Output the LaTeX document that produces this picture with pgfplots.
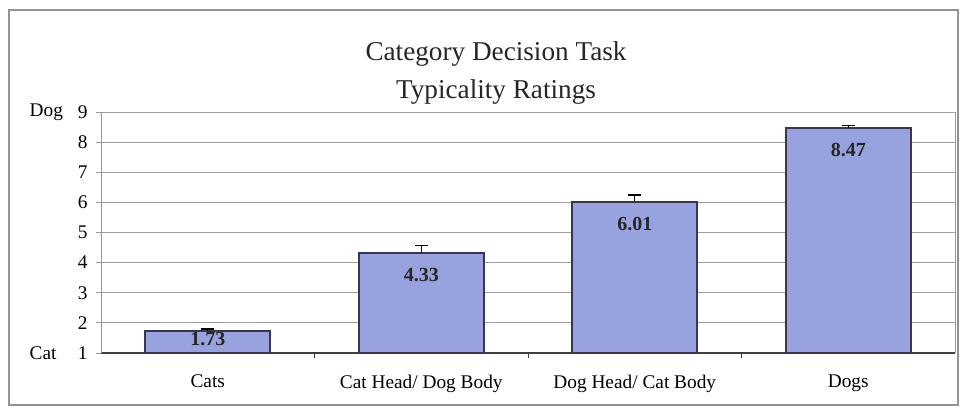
\documentclass[border=0pt]{standalone}
\usepackage{pgfplots}
\pgfplotsset{compat=1.18}
\usepackage{fontspec}
\setmainfont{Liberation Serif}
\definecolor{barfill}{RGB}{152,162,222}
\definecolor{bardraw}{RGB}{55,55,80}
\begin{document}
\begin{tikzpicture}[x=0.75pt,y=0.75pt]
\path[use as bounding box] (0,0) rectangle (960,408);
\draw[gray!85, line width=0.9pt] (9,3) rectangle (958,398);
\node[anchor=base, font=\fontsize{20.4}{24}\selectfont, text=black!85] at (496,348) {Category Decision Task};
\node[anchor=base, font=\fontsize{20.4}{24}\selectfont, text=black!85] at (496,310) {Typicality Ratings};
\node[anchor=west, font=\fontsize{14.5}{17}\selectfont] at (25,296) {Dog};
\node[anchor=west, font=\fontsize{14.5}{17}\selectfont] at (25,55) {Cat};
\begin{axis}[
  at={(75.75pt,41.25pt)}, anchor=south west,
  scale only axis, width=640.5pt, height=180.75pt,
  xmin=-0.5, xmax=3.5, ymin=1, ymax=9,
  axis x line*=bottom, axis y line*=left, axis line style={-},
  x axis line style={black!75, line width=0.8pt},
  y axis line style={gray!80, line width=0.7pt},
  /pgf/number format/assume math mode=true,
  ytick={1,...,9},
  ymajorgrids, grid style={gray!75, line width=0.6pt},
  xtick={0.5,1.5,2.5}, xticklabels={},
  tick align=outside, major tick length=4pt,
  x tick style={black!75, line width=0.6pt},
  y tick style={gray!80, line width=0.6pt},
  tick label style={font=\fontsize{14.5}{17}\selectfont},
  yticklabel style={xshift=-2.6pt},
  extra x ticks={0,1,2,3},
  extra x tick labels={Cats, Cat Head/ Dog Body, Dog Head/ Cat Body, Dogs},
  extra x tick style={major tick length=0pt, tick label style={yshift=-13pt}},
  bar width=0.585,
  ybar,
  after end axis/.code={\draw[gray!80, line width=0.7pt] (rel axis cs:1,0) -- (rel axis cs:1,1);},
]
\addplot[ybar, fill=barfill, draw=bardraw, line width=1.4pt,
  visualization depends on={rawy \as \yv},
  nodes near coords={\pgfmathprintnumber[fixed,precision=2,fixed zerofill]{\pgfplotspointmeta}},
  every node near coord/.append style={anchor=center, font=\bfseries\fontsize{15}{18}\selectfont, text=black!85, yshift={-min(16.5,(\yv-1)*8.5)*1pt}},
  error bars/.cd, y dir=plus, y explicit,
  error bar style={black, line width=1pt},
  error mark options={rotate=90, mark size=5pt, black, line width=1pt}]
 coordinates {(0,1.73) +- (0,0.07) (1,4.33) +- (0,0.23) (2,6.01) +- (0,0.24) (3,8.47) +- (0,0.08)};
\end{axis}
\end{tikzpicture}
\end{document}
